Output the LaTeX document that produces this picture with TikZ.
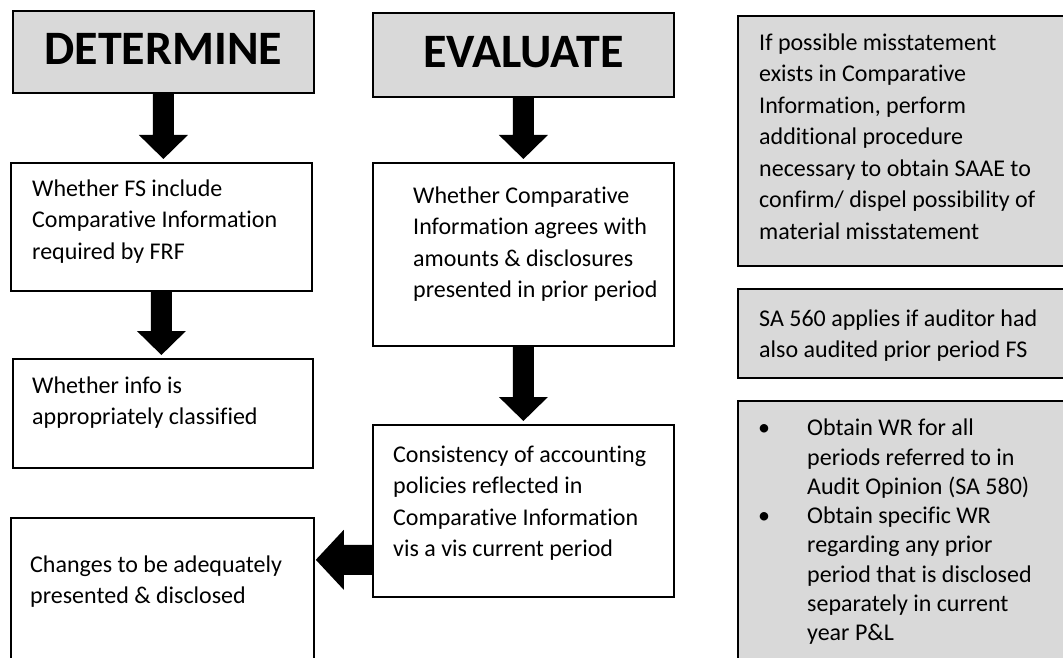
\documentclass[tikz,border=0pt]{standalone}
\usepackage{fontspec}
\setmainfont{Carlito}[Ligatures={NoCommon}]
\usetikzlibrary{calc}
\definecolor{boxgray}{HTML}{D9D9D9}
\tikzset{
  box/.style={draw=black, line width=1.8pt, rectangle, inner sep=0pt, anchor=north west},
  graybox/.style={box, fill=boxgray},
  whitebox/.style={box, fill=white},
  body/.style={anchor=north west, inner sep=0pt, align=left, font=\fontsize{24}{31.5}\selectfont},
  title/.style={inner sep=0pt, font=\fontsize{48}{56}\selectfont\bfseries},
  blk/.style={fill=black, draw=none}
}
\newcommand{\blkdown}[2]{%
  \fill[blk] ($(#1.south)+(-10.5,0)$) -- ($(#2.north -| #1.south)+(-10.5,27)$)
    -- ($(#2.north -| #1.south)+(-24.5,27)$) -- ($(#2.north -| #1.south)+(0,3)$)
    -- ($(#2.north -| #1.south)+(24.5,27)$) -- ($(#2.north -| #1.south)+(10.5,27)$)
    -- ($(#1.south)+(10.5,0)$) -- cycle;}
\begin{document}
\begin{tikzpicture}[x=1pt,y=1pt]
\useasboundingbox (0,0) rectangle (1063,-658);
\clip (0,0) rectangle (1063,-658);
% left column
\node[graybox, minimum width=301pt, minimum height=82pt] (det) at (12,-10) {};
\node[title] (detT) at ($(det.center)+(0,3)$) {DETERMINE};
\node[whitebox, minimum width=301pt, minimum height=128pt] (a) at (10,-162) {};
\node[body] (aT) at (32,-174) {\strut Whether FS include\\Comparative Information\\required by FRF};
\node[whitebox, minimum width=300pt, minimum height=109pt] (b) at (12,-358) {};
\node[body] (bT) at (32,-371) {\strut Whether info is\\appropriately classified};
\node[whitebox, minimum width=303pt, minimum height=180pt] (e) at (10,-517) {};
\node[body] (eT) at (30,-550) {\strut Changes to be adequately\\presented \& disclosed};
% middle column
\node[graybox, minimum width=301pt, minimum height=84pt] (ev) at (372,-12) {};
\node[title] (evT) at ($(ev.center)+(0,3)$) {EVALUATE};
\node[whitebox, minimum width=301pt, minimum height=183pt] (c) at (372,-162) {};
\node[body] (cT) at (413,-181) {\strut Whether Comparative\\Information agrees with\\amounts \& disclosures\\presented in prior period};
\node[whitebox, minimum width=301pt, minimum height=172pt] (d) at (372,-424) {};
\node[body] (dT) at (393,-440) {\strut Consistency of accounting\\policies reflected in\\Comparative Information\\vis a vis current period};
% right column
\node[graybox, minimum width=340pt, minimum height=250pt] (r1) at (737,-15) {};
\node[body] (r1T) at (759,-28) {\strut If possible misstatement\\exists in Comparative\\Information, perform\\additional procedure\\necessary to obtain SAAE to\\confirm/ dispel possibility of\\material misstatement};
\node[graybox, minimum width=340pt, minimum height=89pt] (r2) at (737,-288) {};
\node[body] (r2T) at (759,-304) {\strut SA 560 applies if auditor had\\also audited prior period FS};
\node[graybox, minimum width=340pt, minimum height=290pt] (r3) at (737,-400) {};
\node[anchor=north west, inner sep=0pt, font=\fontsize{24}{29.3}\selectfont] (r3T) at (758,-415) {%
  \begin{tabular}{@{}p{49pt}@{}l@{}}
  \textbullet & Obtain WR for all\\
   & periods referred to in\\
   & Audit Opinion (SA 580)\\
  \textbullet & Obtain specific WR\\
   & regarding any prior\\
   & period that is disclosed\\
   & separately in current\\
   & year P\&L
  \end{tabular}};
% block arrows
\blkdown{det}{a}
\blkdown{a}{b}
\blkdown{ev}{c}
\blkdown{c}{d}
\coordinate (h1) at ($(d.south west)+(0,38)$);
\fill[blk] ($(h1)+(0,15)$) -- ($(h1 -| e.east)+(29,15)$) -- ($(h1 -| e.east)+(29,30)$)
  -- ($(h1 -| e.east)+(1,0)$) -- ($(h1 -| e.east)+(29,-30)$) -- ($(h1 -| e.east)+(29,-15)$)
  -- ($(h1)+(0,-15)$) -- cycle;
\end{tikzpicture}
\end{document}
